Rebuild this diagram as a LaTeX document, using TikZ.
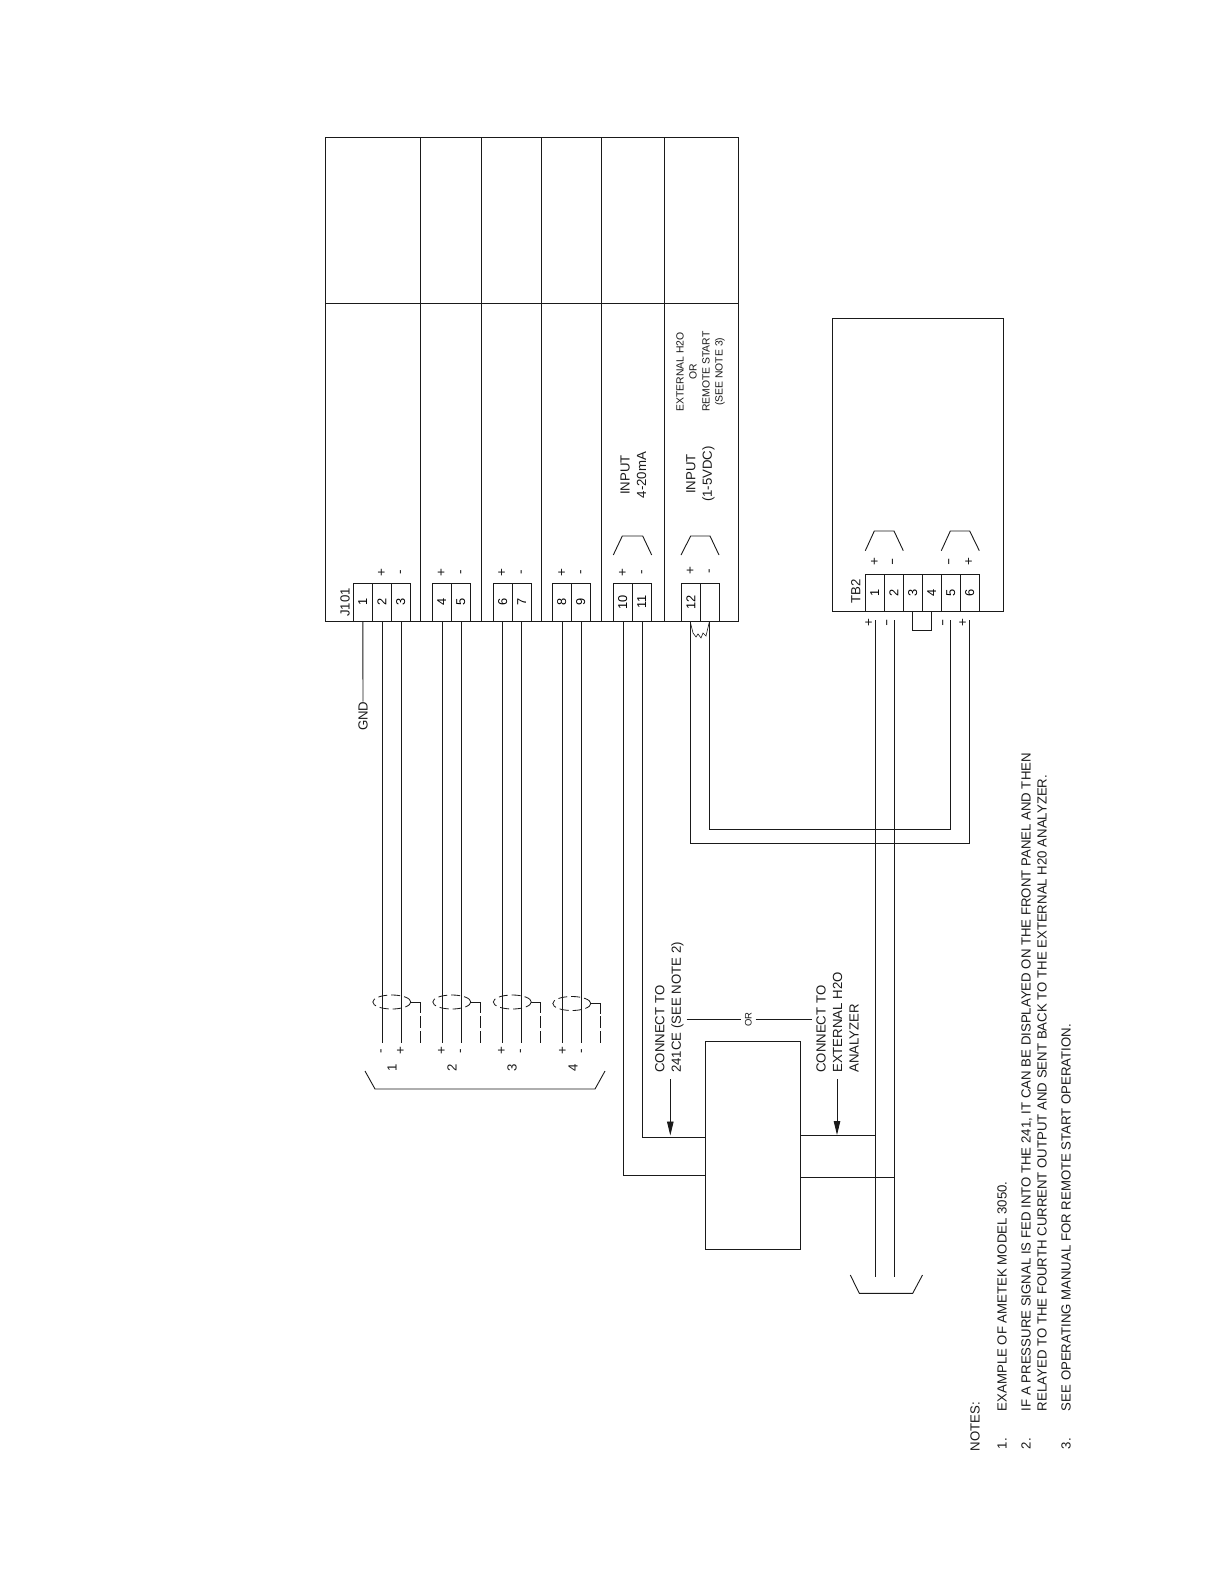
\documentclass[tikz,border=0pt]{standalone}
\usepackage{fontspec}
\setmainfont{Liberation Sans}
\usetikzlibrary{shapes.geometric,arrows.meta}
\definecolor{ink}{HTML}{1A1A1A}
\tikzset{
  wire/.style={draw=ink,line width=0.9pt,line cap=butt},
  boxn/.style={draw=ink,line width=0.9pt,inner sep=0pt,outer sep=0pt},
  cell/.style={boxn,minimum width=19pt,minimum height=38pt,font=\fontsize{12.8}{14}\selectfont},
  tbcell/.style={boxn,minimum width=19pt,minimum height=36.7pt,font=\fontsize{12.8}{14}\selectfont},
  rot/.style={rotate=90,inner sep=0pt,outer sep=0pt,text=ink,font=\fontsize{13.2}{16.5}\selectfont,align=left},
  rotc/.style={rot,align=center},
  small/.style={rot,align=center,font=\fontsize{10.4}{13}\selectfont},
  sign/.style={rotate=90,inner sep=0pt,text=ink,font=\fontsize{13.5}{15}\selectfont},
  notes/.style={rot,font=\fontsize{13.2}{16}\selectfont},
  shield/.style={draw=ink,dashed,dash pattern=on 9pt off 4pt,line width=0.8pt,ellipse,inner sep=0pt,outer sep=0pt,minimum width=38pt,minimum height=14pt},
  dashw/.style={wire,dash pattern=on 12pt off 3pt},
  arrowl/.style={wire,-{Triangle[length=14pt,width=6.5pt]}}
}
\newcommand{\Rct}[5]{%
  \pgfmathsetmacro{\rw}{#4-#2}\pgfmathsetmacro{\rh}{#5-#3}%
  \pgfmathsetmacro{\rcx}{(#4+#2)/2}\pgfmathsetmacro{\rcy}{(#5+#3)/2}%
  \node[boxn,minimum width=\rw pt,minimum height=\rh pt] (#1) at (\rcx,\rcy) {};}
\newcommand{\Cell}[3]{\node[cell] (#1) at (#2,602) {\rotatebox{90}{#3}};}
\newcommand{\TCell}[3]{\node[tbcell] (#1) at (#2,592.65) {\rotatebox{90}{#3}};}
\newcommand{\Sgn}[3]{\node[sign] at (#1,#2) {#3};}
\newcommand{\Long}{\scalebox{1.6}[1]{-}}
\begin{document}
\begin{tikzpicture}[x=1pt,y=-1pt]
\useasboundingbox (0,0) rectangle (1224,1584);
\fill[white] (0,0) rectangle (1224,1584);
% main panel
\Rct{pa}{325.3}{137.3}{420.3}{621}
\Rct{pb}{420.3}{137.3}{481.3}{621}
\Rct{pc}{481.3}{137.3}{541.3}{621}
\Rct{pd}{541.3}{137.3}{601.3}{621}
\Rct{pe}{601.3}{137.3}{664.3}{621}
\Rct{pf}{664.3}{137.3}{738.3}{621}
\draw[wire] (pa.west |- 0,303.3) -- (pf.east |- 0,303.3);
% J101 terminals
\Cell{t1}{362.8}{1}\Cell{t2}{381.8}{2}\Cell{t3}{400.8}{3}
\Cell{t4}{441.8}{4}\Cell{t5}{460.8}{5}
\Cell{t6}{502.8}{6}\Cell{t7}{521.8}{7}
\Cell{t8}{561.8}{8}\Cell{t9}{580.8}{9}
\Cell{t10}{622.8}{10}\Cell{t11}{641.8}{11}
\Cell{t12}{690.8}{12}\Cell{t13}{709.8}{}
\node[rot] (j101) at (345,602.3) {J101};
\Sgn{382}{572.3}{+}\Sgn{402}{572.3}{-}
\Sgn{441.7}{572.3}{+}\Sgn{462.3}{572.3}{-}
\Sgn{502.3}{572.3}{+}\Sgn{522.7}{572.3}{-}
\Sgn{562.3}{572.3}{+}\Sgn{582.3}{572.3}{-}
\Sgn{623}{572.3}{+}\Sgn{643.3}{572.3}{-}
\Sgn{690.7}{571}{+}\Sgn{710.7}{571}{-}
\draw[wire] (613.3,555) -- (622.3,536) -- (642.7,536) -- (651.7,555);
\draw[wire] (681,555) -- (690.7,536) -- (710,536) -- (719,555);
\node[rotc] (in1) at (633.5,475) {INPUT\\4-20mA};
\node[rotc] (in2) at (700.5,474) {INPUT\\(1-5VDC)};
\node[small] (ext) at (700.5,371.7) {EXTERNAL H2O\\OR\\REMOTE START\\(SEE NOTE 3)};
% TB2
\Rct{tb}{832.3}{318}{1003.3}{611}
\TCell{b1}{874.8}{1}\TCell{b2}{893.8}{2}\TCell{b3}{912.8}{3}
\TCell{b4}{931.8}{4}\TCell{b5}{950.8}{5}\TCell{b6}{969.8}{6}
\node[rot] (tb2) at (855.7,591.7) {TB2};
\draw[wire] (865.3,550.7) -- (874.3,531) -- (894,531) -- (903.3,550.7);
\draw[wire] (941.3,550.7) -- (950.3,531) -- (969.7,531) -- (979.3,550.7);
\Sgn{875}{561.7}{+}\Sgn{894}{561.7}{\Long}\Sgn{950.3}{561.7}{\Long}\Sgn{969.3}{561.7}{+}
\Sgn{869.3}{622.7}{+}\Sgn{888.3}{622.7}{\Long}\Sgn{944.3}{622.7}{\Long}\Sgn{963.3}{622.7}{+}
\draw[wire] (b3.south |- tb.south) ++(-0.5,0) -- ++(0,19.3) -| ([xshift=-0.5pt]b4.south |- tb.south);
% GND
\node[rot,anchor=east] (gnd) at (363,701.5) {GND};
\draw[wire] (t1.south) -- (gnd.east);
% free ends
\foreach \n/\x in {2/382.3,3/401.3,4/442.3,5/461.3,6/502.3,7/521.3,8/562.3,9/581.3}
  \coordinate (e\n) at (\x,1043);
\draw[wire] (t2.south -| e2) -- (e2);
\draw[wire] (t3.south -| e3) -- (e3);
\draw[wire] (t4.south -| e4) -- (e4);
\draw[wire] (t5.south -| e5) -- (e5);
\draw[wire] (t6.south -| e6) -- (e6);
\draw[wire] (t7.south -| e7) -- (e7);
\draw[wire] (t8.south -| e8) -- (e8);
\draw[wire] (t9.south -| e9) -- (e9);
% shields
\node[shield] (s1) at (391.8,1002) {};
\node[shield] (s2) at (451.8,1002) {};
\node[shield] (s3) at (512.3,1002) {};
\node[shield] (s4) at (571.8,1003.5) {};
\draw[wire] (s1.east) -- (420.3,1002) -- (420.3,1013);
\draw[wire] (s2.east) -- (480.3,1002) -- (480.3,1013);
\draw[wire] (s3.east) -- (540.3,1002) -- (540.3,1013);
\draw[wire] (s4.east) -- (600.3,1003.5) -- (600.3,1014);
\draw[dashw] (420.3,1016) -- (420.3,1043);
\draw[dashw] (480.3,1016) -- (480.3,1043);
\draw[dashw] (540.3,1016) -- (540.3,1043);
\draw[dashw] (600.3,1016) -- (600.3,1043);
\Sgn{382.5}{1051}{-}\Sgn{401}{1051}{+}
\Sgn{442}{1051}{+}\Sgn{462}{1051}{-}
\Sgn{502}{1051}{+}\Sgn{522}{1051}{-}
\Sgn{563}{1051}{+}\Sgn{583}{1051}{-}
\node[rot] (n1) at (392,1068) {1};
\node[rot] (n2) at (452,1068) {2};
\node[rot] (n3) at (512,1068) {3};
\node[rot] (n4) at (573,1068) {4};
\draw[wire] (365,1071) -- (375,1089) -- (595,1089) -- (605,1071);
% controller box
\Rct{ctl}{705.3}{1041}{800.3}{1249.3}
\draw[wire] (t10.south -| 623.3,0) |- (ctl.west |- 0,1175.3);
\draw[wire] (t11.south -| 642.3,0) |- (ctl.west |- 0,1137.3);
% TB2 loop to input 12
\draw[wire] (969.3,620) -- (969.3,843.3) -- (690.3,843.3) -- (t12.south -| 690.3,0);
\draw[wire] (950.3,620) -- (950.3,829.3) -- (709.3,829.3) -- (t13.south -| 709.3,0);
\draw[wire,line width=0.6pt] (690.3,622) -- (693,633) -- (696,637) -- (698,634) -- (701,638) -- (703,633) -- (706,636) -- (709.3,622);
% bus
\coordinate (busa) at (875.3,1276.7);
\coordinate (busb) at (894.3,1276.7);
\draw[wire] (875.3,620) -- (busa);
\draw[wire] (894.3,620) -- (busb);
\draw[wire] (ctl.east |- 0,1135.3) -- (875.3,1135.3);
\draw[wire] (ctl.east |- 0,1177.3) -- (894.3,1177.3);
\draw[wire] (850.3,1275) -- (859.3,1293.3) -- (912.7,1293.3) -- (922.5,1275);
% connect labels
\node[rot,anchor=west] (c1) at (669.3,1072.7) {CONNECT TO\\241CE (SEE NOTE 2)};
\node[rot,anchor=west] (c2) at (837.5,1072.7) {CONNECT TO\\EXTERNAL H2O\\ANALYZER};
\node[rot,outer sep=4pt,font=\fontsize{9.5}{11}\selectfont] (or) at (748.3,1019.7) {OR};
\draw[wire] (686.7,1019.7) -- (or.north);
\draw[wire] (or.south) -- (811.7,1019.7);
\coordinate (a1) at (670.3,1079.3);\coordinate (a1e) at (670.3,1135.5);
\coordinate (a2) at (837,1079.3);\coordinate (a2e) at (837,1135);
\draw[arrowl] (a1) -- (a1e);
\draw[arrowl] (a2) -- (a2e);
% notes
\node[notes,anchor=west] (notes) at (975,1451) {NOTES:};
\node[notes,anchor=west] (k1) at (1002,1449) {1.};
\node[notes,anchor=west] (k2) at (1026,1449) {2.};
\node[notes,anchor=west] (k3) at (1066,1449) {3.};
\node[notes,anchor=west] (m1) at (1002,1411) {EXAMPLE OF AMETEK MODEL 3050.};
\node[notes,anchor=west] (m2) at (1034,1411) {IF A PRESSURE SIGNAL IS FED INTO THE 241, IT CAN BE DISPLAYED ON THE FRONT PANEL AND THEN\\RELAYED TO THE FOURTH CURRENT OUTPUT AND SENT BACK TO THE EXTERNAL H20 ANALYZER.};
\node[notes,anchor=west] (m3) at (1066,1411) {SEE OPERATING MANUAL FOR REMOTE START OPERATION.};
\end{tikzpicture}
\end{document}
